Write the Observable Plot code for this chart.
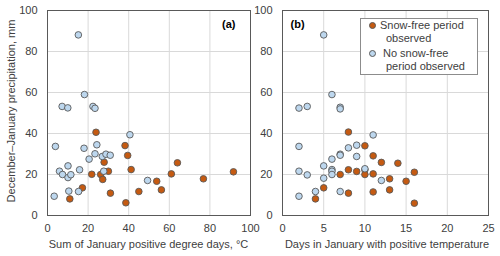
<!DOCTYPE html>
<html>
<head>
<meta charset="utf-8">
<script src="https://cdn.jsdelivr.net/npm/d3@7"></script>
<script src="https://cdn.jsdelivr.net/npm/@observablehq/plot@0.6"></script>
<style>
  html, body { margin: 0; padding: 0; background: #fff; }
  #wrap { position: relative; width: 500px; height: 256px; font-family: "Liberation Sans", Arial, sans-serif; color: #404040; font-size: 11px; }
  #wrap svg { position: absolute; top: 0; }
  .t { position: absolute; white-space: nowrap; line-height: 13px; }
  #legend { position: absolute; left: 360px; top: 18px; width: 116px; height: 55px; border: 1px solid #8c8c8c; background: #fff; }
  .ld { position: absolute; width: 5px; height: 5px; border-radius: 50%; border: 1px solid #595959; }
</style>
</head>
<body>
<div id="wrap"></div>
<script>
// Panel (a): sum of January positive degree days vs Dec–Jan precipitation
const aSnowFreePDD    = [23.9, 38.2, 39.5, 27.9, 64.0, 41.2, 30.0, 91.6, 61.0, 21.8, 26.2, 76.8, 27.2, 53.8, 17.2, 56.1, 45.0, 31.0, 11.0, 38.6];
const aSnowFreePrecip = [40.6, 34.1, 29.3, 26.0, 25.7, 22.4, 21.6, 21.3, 20.3, 20.1, 20.0, 17.9, 17.6, 16.7, 13.5, 12.5, 11.7, 10.9, 8.1, 6.2];
const aNoSnowPDD      = [15.2, 18.2, 7.2, 10.0, 22.4, 23.4, 3.9, 18.0, 24.3, 40.6, 20.5, 23.4, 27.0, 28.8, 30.9, 5.9, 7.4, 10.1, 10.1, 11.5, 15.8, 27.7, 49.3, 3.3, 10.5, 15.3];
const aNoSnowPrecip   = [88.1, 59.0, 53.2, 52.5, 53.2, 52.3, 33.7, 32.8, 34.5, 39.4, 27.5, 30.1, 28.8, 29.9, 29.4, 21.6, 20.0, 24.2, 18.5, 19.9, 22.3, 21.6, 17.1, 9.4, 11.9, 11.7];

// Panel (b): days in January with positive temperature vs Dec–Jan precipitation
const bSnowFreeDays   = [8, 10, 11, 12, 14, 8, 9, 10, 10, 7, 11, 16, 13, 15, 5, 8, 11, 13, 4, 16];
const bSnowFreePrecip = [40.7, 34.0, 29.1, 25.9, 25.5, 22.3, 21.5, 22.3, 20.0, 20.0, 20.3, 21.1, 17.9, 16.7, 13.5, 10.9, 11.5, 12.5, 8.1, 6.0];
const bNoSnowDays     = [5, 6, 2, 3, 7, 7, 2, 8, 9, 11, 6, 7, 7, 9, 2, 3, 5, 5, 6, 6, 6, 10, 12, 2, 4, 7];
const bNoSnowPrecip   = [88.1, 59.0, 52.4, 53.2, 52.8, 52.0, 33.7, 33.0, 34.3, 39.3, 27.5, 29.9, 29.4, 28.8, 21.6, 19.8, 24.2, 18.2, 22.4, 21.6, 20.0, 22.8, 17.1, 9.4, 11.7, 11.7];

const aTicksX = [0, 20, 40, 60, 80, 100];
const bTicksX = [0, 5, 10, 15, 20, 25];
const yTicks  = [0, 20, 40, 60, 80, 100];

const seriesLabels = ["Snow-free period observed", "No snow-free period observed"];
const xTitles = ["Sum of January positive degree days, °C", "Days in January with positive temperature"];
const yTitle = "December–January precipitation, mm";

const ORANGE = "#c55a11", BLUE = "#bdd7ee", OUT = "#595959", GRID = "#d9d9d9";

const toRows = (xs, ys) => xs.map((x, i) => ({x, y: ys[i]}));

function panel({width, marginLeft, marginRight, xDomain, xTicks, snow, nosnow, tag, tagAnchor, tagDx}) {
  const inner = xTicks.slice(1, -1);
  return Plot.plot({
    width, height: 256,
    marginLeft, marginRight, marginTop: 10, marginBottom: 41,
    style: {fontFamily: "'Liberation Sans', Arial, sans-serif", fontSize: "11px", color: "#404040", background: "transparent", overflow: "visible"},
    x: {domain: xDomain},
    y: {domain: [0, 100]},
    marks: [
      Plot.gridX(inner, {stroke: GRID, strokeOpacity: 1}),
      Plot.gridY(yTicks.slice(1, -1), {stroke: GRID, strokeOpacity: 1}),
      Plot.axisX({ticks: xTicks, tickSize: 0, tickPadding: 9, label: null}),
      Plot.axisY({ticks: yTicks, tickSize: 0, tickPadding: 10, label: null}),
      Plot.dot(snow, {x: "x", y: "y", r: 3.3, fill: ORANGE, stroke: OUT, strokeWidth: 0.9}),
      Plot.dot(nosnow, {x: "x", y: "y", r: 3.3, fill: BLUE, stroke: OUT, strokeWidth: 0.9}),
      Plot.frame({stroke: OUT, strokeWidth: 1}),
      Plot.text([tag], {frameAnchor: tagAnchor, dx: tagDx, dy: 10, lineAnchor: "top", fontWeight: "bold", fill: "#000", fontSize: 11})
    ]
  });
}

const wrap = document.getElementById("wrap");

const svgA = panel({
  width: 255, marginLeft: 47, marginRight: 5, xDomain: [0, 100], xTicks: aTicksX,
  snow: toRows(aSnowFreePDD, aSnowFreePrecip), nosnow: toRows(aNoSnowPDD, aNoSnowPrecip),
  tag: "(a)", tagAnchor: "top-right", tagDx: -15
});
svgA.style.left = "0px";
wrap.appendChild(svgA);

const svgB = panel({
  width: 245, marginLeft: 27, marginRight: 12, xDomain: [0, 25], xTicks: bTicksX,
  snow: toRows(bSnowFreeDays, bSnowFreePrecip), nosnow: toRows(bNoSnowDays, bNoSnowPrecip),
  tag: "(b)", tagAnchor: "top-left", tagDx: 8
});
svgB.style.left = "255px";
wrap.appendChild(svgB);

function addText(txt, css) {
  const d = document.createElement("div");
  d.className = "t";
  d.textContent = txt;
  Object.assign(d.style, css);
  wrap.appendChild(d);
  return d;
}

// axis titles
addText(xTitles[0], {left: "148.5px", top: "238px", transform: "translateX(-50%)"});
addText(xTitles[1], {left: "387px", top: "238px", transform: "translateX(-50%)"});
addText(yTitle, {left: "11px", top: "111px", transform: "translate(-50%, -50%) rotate(-90deg)"});

// legend
const lg = document.createElement("div");
lg.id = "legend";
wrap.appendChild(lg);
function legendItem(color, top, line1, line2, textLeft) {
  const dot = document.createElement("div");
  dot.className = "ld";
  Object.assign(dot.style, {left: "8px", top: (top + 3) + "px", background: color});
  lg.appendChild(dot);
  const t1 = document.createElement("div");
  t1.className = "t"; t1.textContent = line1;
  Object.assign(t1.style, {left: textLeft + "px", top: top + "px"});
  lg.appendChild(t1);
  const t2 = document.createElement("div");
  t2.className = "t"; t2.textContent = line2;
  Object.assign(t2.style, {left: "25px", top: (top + 13) + "px"});
  lg.appendChild(t2);
}
legendItem(ORANGE, 0, "Snow-free period", "observed", 19);
legendItem(BLUE, 28, "No snow-free", "period observed", 22);
</script>
</body>
</html>
